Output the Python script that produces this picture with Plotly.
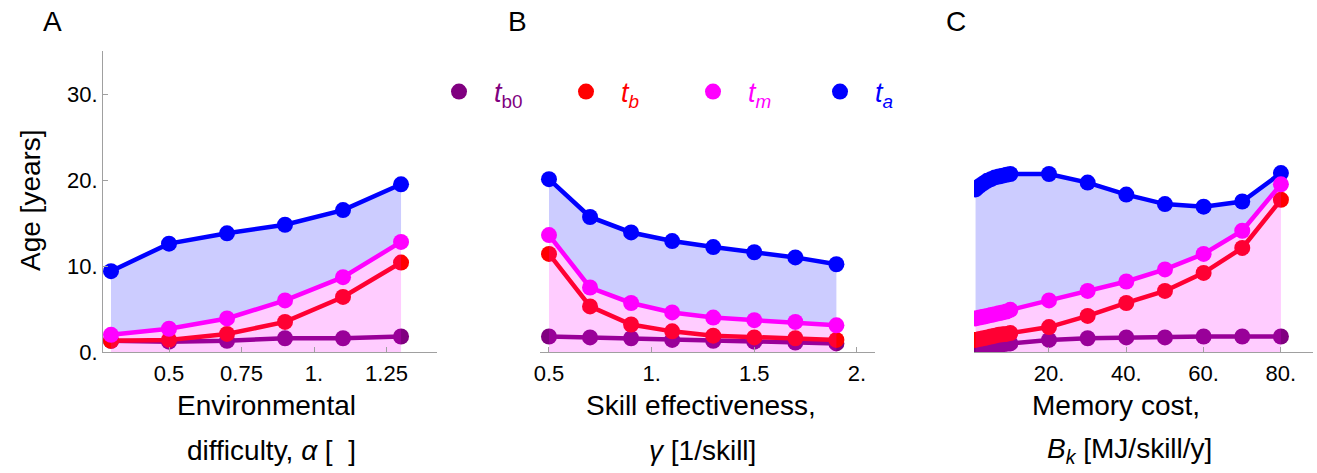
import plotly.graph_objects as go

# ---------------- data ----------------
alpha = [0.3, 0.5, 0.7, 0.9, 1.1, 1.3]
A_tb0 = [1.3, 1.2, 1.3, 1.6, 1.6, 1.8]
A_tb = [1.3, 1.4, 2.1, 3.5, 6.4, 10.4]
A_tm = [2.0, 2.7, 3.9, 6.0, 8.7, 12.8]
A_ta = [9.4, 12.6, 13.8, 14.8, 16.5, 19.5]

gamma = [0.5, 0.7, 0.9, 1.1, 1.3, 1.5, 1.7, 1.9]
B_tb0 = [1.8, 1.7, 1.6, 1.4, 1.3, 1.2, 1.1, 1.0]
B_tb = [11.4, 5.3, 3.2, 2.4, 1.9, 1.7, 1.6, 1.4]
B_tm = [13.6, 7.5, 5.7, 4.6, 4.0, 3.7, 3.5, 3.1]
B_ta = [20.1, 15.7, 13.9, 12.9, 12.2, 11.6, 11.0, 10.2]

Bk = [1, 2, 3, 4, 5, 6, 7, 8, 9, 10, 20, 30, 40, 50, 60, 70, 80]
C_tb0 = [0.2, 0.35, 0.5, 0.6, 0.7, 0.8, 0.85, 0.9, 0.95, 1.0, 1.4, 1.6, 1.7, 1.7, 1.8, 1.8, 1.8]
C_tb = [1.4, 1.5, 1.6, 1.7, 1.8, 1.9, 2.0, 2.05, 2.1, 2.2, 2.9, 4.2, 5.7, 7.1, 9.2, 12.1, 17.7]
C_tm = [3.9, 4.0, 4.1, 4.2, 4.3, 4.4, 4.5, 4.6, 4.7, 4.9, 6.0, 7.1, 8.2, 9.6, 11.4, 14.1, 19.5]
C_ta = [18.9, 19.3, 19.6, 19.9, 20.1, 20.3, 20.4, 20.5, 20.6, 20.7, 20.7, 19.7, 18.3, 17.2, 16.9, 17.5, 20.8]

y_ticks = [0, 10, 20, 30]
y_ticktext = ["0.", "10.", "20.", "30."]
A_ticks = [0.5, 0.75, 1.0, 1.25]
A_ticktext = ["0.5", "0.75", "1.", "1.25"]
B_ticks = [0.5, 1.0, 1.5, 2.0]
B_ticktext = ["0.5", "1.", "1.5", "2."]
C_ticks = [20, 40, 60, 80]
C_ticktext = ["20.", "40.", "60.", "80."]

series_names = ["<i>t</i><sub>b0</sub>", "<i>t<sub>b</sub></i>", "<i>t<sub>m</sub></i>", "<i>t<sub>a</sub></i>"]

# ---------------- styles ----------------
W, H = 1317, 473
FONT = "Liberation Sans, Arial, sans-serif"
COL = {"tb0": "rgb(128,0,128)", "tb": "rgb(255,0,0)", "tm": "rgb(255,0,255)", "ta": "rgb(0,0,255)"}
PINK = "rgba(255,0,255,0.2)"
LAV = "rgba(0,0,255,0.2)"
LW = 4.5
MS = 16

fig = go.Figure()

panels = [
    ("x", "y", alpha, A_tb0, A_tb, A_tm, A_ta),
    ("x2", "y2", gamma, B_tb0, B_tb, B_tm, B_ta),
    ("x3", "y3", Bk, C_tb0, C_tb, C_tm, C_ta),
]

def line(xa, ya, x, y, c):
    return go.Scatter(x=x, y=y, xaxis=xa, yaxis=ya, mode="lines+markers",
                      line=dict(color=c, width=LW), marker=dict(color=c, size=MS),
                      showlegend=False, hoverinfo="skip")

for xa, ya, xv, tb0, tb, tm, ta in panels:
    fig.add_trace(line(xa, ya, xv, tb0, COL["tb0"]))
    fig.add_trace(line(xa, ya, xv, tb, COL["tb"]))
    fig.add_trace(go.Scatter(x=xv, y=tm, xaxis=xa, yaxis=ya, mode="none", fill="tozeroy",
                             fillcolor=PINK, showlegend=False, hoverinfo="skip"))
    fig.add_trace(go.Scatter(x=xv, y=ta, xaxis=xa, yaxis=ya, mode="none", fill="tonexty",
                             fillcolor=LAV, showlegend=False, hoverinfo="skip"))
    fig.add_trace(line(xa, ya, xv, ta, COL["ta"]))
    fig.add_trace(line(xa, ya, xv, tm, COL["tm"]))

# legend-only entries
for name, key in zip(series_names, ["tb0", "tb", "tm", "ta"]):
    fig.add_trace(go.Scatter(x=[None], y=[None], mode="markers",
                             name=f'<span style="color:{COL[key]}">{name}</span>',
                             marker=dict(color=COL[key], size=MS),
                             legendgroup=key, showlegend=True, hoverinfo="skip"))

def pxd(a, b):
    return [a / W, b / W]

ytop = (H - 51) / H
ybot = (H - 352) / H

axis_common = dict(showline=True, linecolor="rgb(160,160,160)", linewidth=1,
                   ticks="inside", ticklen=5, tickcolor="rgb(160,160,160)",
                   showgrid=False, zeroline=False, automargin=False,
                   tickfont=dict(family=FONT, size=22, color="black"))

fig.update_layout(
    width=W, height=H,
    margin=dict(l=0, r=0, t=0, b=0),
    plot_bgcolor="white", paper_bgcolor="white",
    xaxis=dict(domain=pxd(103, 437), range=[0.2724, 1.424], tickvals=A_ticks, ticktext=A_ticktext,
               anchor="y", ticklabelstandoff=2, **axis_common),
    xaxis2=dict(domain=pxd(540, 875), range=[0.4562, 2.088], tickvals=B_ticks, ticktext=B_ticktext,
                anchor="y2", ticklabelstandoff=2, **axis_common),
    xaxis3=dict(domain=pxd(974, 1313), range=[0.6, 88.3], tickvals=C_ticks, ticktext=C_ticktext,
                anchor="y3", ticklabelstandoff=2, **axis_common),
    yaxis=dict(domain=[ybot, ytop], range=[0, 35], tickvals=y_ticks, ticktext=y_ticktext,
               anchor="x", **axis_common),
    yaxis2=dict(domain=[ybot, ytop], range=[0, 35], anchor="x2", visible=False),
    yaxis3=dict(domain=[ybot, ytop], range=[0, 35], anchor="x3", visible=False),
    showlegend=True,
    legend=dict(orientation="h", x=424 / W, xanchor="left", y=(H - 92) / H, yanchor="middle",
                font=dict(family=FONT, size=27, color="black"),
                itemwidth=60, entrywidth=52, entrywidthmode="pixels",
                bgcolor="rgba(0,0,0,0)", tracegroupgap=0),
)

ann = []
def add_text(x, y, text, size, angle=0):
    ann.append(dict(x=x / W, y=(H - y) / H, xref="paper", yref="paper", text=text, showarrow=False,
                    xanchor="center", yanchor="middle", textangle=angle,
                    font=dict(family=FONT, size=size, color="black")))

add_text(52, 22, "A", 28)
add_text(517, 22, "B", 28)
add_text(956, 22, "C", 28)
add_text(30, 200, "Age [years]", 28, -90)
add_text(266, 405, "Environmental", 28)
add_text(271, 450, "difficulty, <i>α</i> [  ]", 28)
add_text(701, 405, "Skill effectiveness,", 28)
add_text(703, 450, "<i>γ</i> [1/skill]", 28)
add_text(1116, 405, "Memory cost,", 28)
add_text(1129, 450, "<i>B<sub>k</sub></i> [MJ/skill/y]", 28)
fig.update_layout(annotations=ann)

fig.write_html("out.html", config={"displayModeBar": False},
               post_script="document.body.style.margin='0';")
